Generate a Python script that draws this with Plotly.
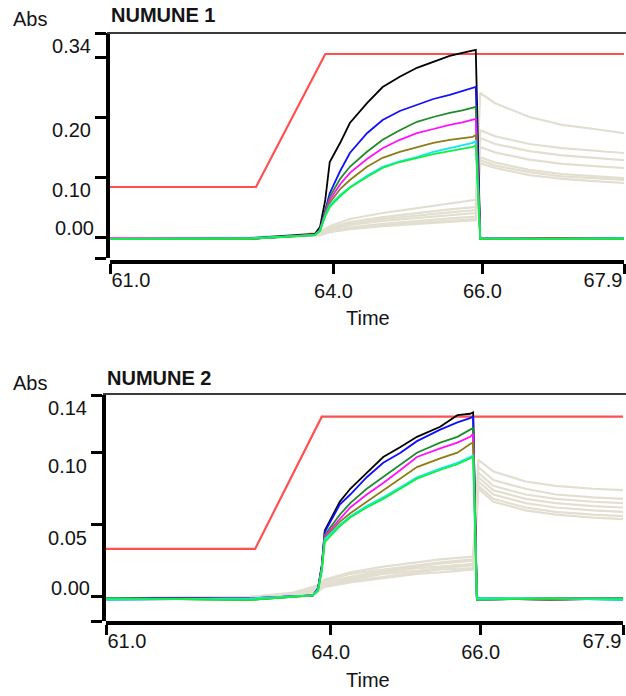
import plotly.graph_objects as go

# ---------------- data: panel 1 (NUMUNE 1) ----------------
T1_COL = [61.0, 62.88, 63.75, 63.82, 63.89, 63.95, 64.09, 64.22, 64.45, 64.66, 64.89,
          65.12, 65.34, 65.56, 65.73, 65.87, 65.91, 65.97, 66.91, 67.9]
P1_BLACK = [-0.003, -0.002, 0.005, 0.017, 0.062, 0.125, 0.157, 0.19, 0.223, 0.25, 0.267,
            0.282, 0.292, 0.302, 0.307, 0.31, 0.312, -0.002, -0.003, -0.002]
P1_BLUE = [-0.003, -0.003, 0.004, 0.013, 0.045, 0.073, 0.11, 0.14, 0.173, 0.195, 0.21,
           0.22, 0.23, 0.237, 0.243, 0.248, 0.25, -0.003, -0.002, -0.003]
P1_DKGREEN = [-0.003, -0.003, 0.004, 0.012, 0.043, 0.067, 0.097, 0.117, 0.142, 0.162, 0.178,
              0.192, 0.2, 0.207, 0.211, 0.215, 0.217, -0.003, -0.003, -0.002]
P1_MAGENTA = [-0.002, -0.003, 0.004, 0.012, 0.04, 0.062, 0.088, 0.107, 0.13, 0.148, 0.162,
              0.173, 0.18, 0.187, 0.191, 0.195, 0.197, -0.002, -0.003, -0.003]
P1_OLIVE = [-0.003, -0.003, 0.003, 0.011, 0.038, 0.057, 0.08, 0.095, 0.117, 0.132, 0.142,
            0.15, 0.157, 0.162, 0.165, 0.167, 0.17, -0.003, -0.002, -0.003]
P1_CYAN = [-0.003, -0.002, 0.003, 0.011, 0.036, 0.053, 0.07, 0.083, 0.102, 0.117, 0.126,
           0.133, 0.142, 0.148, 0.153, 0.157, 0.16, -0.002, -0.003, -0.002]
P1_GREEN = [-0.003, -0.003, 0.003, 0.01, 0.035, 0.05, 0.068, 0.082, 0.1, 0.115, 0.125,
            0.132, 0.138, 0.143, 0.147, 0.15, 0.153, -0.003, -0.003, -0.003]
T1_RED = [61.0, 62.96, 63.89, 67.9]
P1_RED = [0.0833, 0.0833, 0.305, 0.305]
T1_GRAY = [61.0, 62.88, 63.5, 63.82, 63.95, 64.22, 64.66, 65.12, 65.56, 65.91,
           65.97, 66.17, 66.63, 67.07, 67.5, 67.9]
P1_GRAY = [
    [-0.002, -0.001, 0.003, 0.008, 0.018, 0.03, 0.04, 0.048, 0.055, 0.062, 0.24, 0.223, 0.2, 0.187, 0.18, 0.173],
    [-0.002, -0.001, 0.003, 0.007, 0.015, 0.025, 0.033, 0.04, 0.046, 0.05, 0.178, 0.168, 0.155, 0.148, 0.144, 0.14],
    [-0.002, -0.002, 0.002, 0.006, 0.013, 0.022, 0.03, 0.036, 0.041, 0.045, 0.165, 0.155, 0.143, 0.136, 0.132, 0.128],
    [-0.002, -0.002, 0.002, 0.005, 0.012, 0.02, 0.027, 0.032, 0.037, 0.04, 0.15, 0.141, 0.129, 0.122, 0.118, 0.115],
    [-0.002, -0.002, 0.001, 0.004, 0.01, 0.016, 0.022, 0.027, 0.031, 0.034, 0.133, 0.124, 0.112, 0.105, 0.101, 0.098],
    [-0.002, -0.002, 0.001, 0.003, 0.008, 0.013, 0.018, 0.022, 0.025, 0.028, 0.123, 0.115, 0.103, 0.097, 0.093, 0.09],
    [-0.002, -0.002, 0.001, 0.003, 0.009, 0.014, 0.02, 0.024, 0.027, 0.03, 0.128, 0.119, 0.108, 0.101, 0.098, 0.095],
]
Y1_RANGE = [-0.035, 0.34]
Y1_TICKS = [-0.035, 0.0, 0.1, 0.2, 0.3, 0.34]
Y1_LABELS = ["", "", "0.10", "0.20", "", "0.34"]

# ---------------- data: panel 2 (NUMUNE 2) ----------------
T2_COL = [61.0, 62.92, 63.76, 63.83, 63.88, 63.92, 64.12, 64.26, 64.48, 64.7, 64.93,
          65.15, 65.46, 65.69, 65.86, 65.9, 65.95, 66.93, 67.9]
P2_BLACK = [-0.001, -0.001, 0.001, 0.006, 0.022, 0.046, 0.066, 0.075, 0.086, 0.097, 0.104,
            0.111, 0.118, 0.126, 0.127, 0.128, -0.002, -0.001, -0.001]
P2_BLUE = [-0.001, -0.001, 0.001, 0.006, 0.021, 0.045, 0.064, 0.071, 0.083, 0.093, 0.1,
           0.108, 0.116, 0.121, 0.124, 0.125, -0.001, -0.002, -0.001]
P2_DKGREEN = [-0.001, -0.002, 0.001, 0.005, 0.02, 0.043, 0.057, 0.065, 0.075, 0.083, 0.092,
              0.1, 0.107, 0.111, 0.116, 0.117, -0.001, -0.001, -0.002]
P2_MAGENTA = [-0.002, -0.001, 0.001, 0.005, 0.02, 0.042, 0.054, 0.062, 0.071, 0.079, 0.088,
              0.097, 0.103, 0.107, 0.111, 0.113, -0.002, -0.001, -0.001]
P2_OLIVE = [-0.001, -0.002, 0.001, 0.005, 0.019, 0.041, 0.052, 0.058, 0.066, 0.074, 0.082,
            0.09, 0.096, 0.1, 0.106, 0.107, -0.001, -0.002, -0.001]
P2_CYAN = [-0.002, -0.001, 0.001, 0.005, 0.019, 0.04, 0.05, 0.056, 0.063, 0.069, 0.076,
           0.083, 0.089, 0.093, 0.097, 0.098, -0.001, -0.001, -0.002]
P2_GREEN = [-0.001, -0.002, 0.001, 0.004, 0.018, 0.038, 0.049, 0.055, 0.062, 0.068, 0.075,
            0.082, 0.088, 0.092, 0.096, 0.097, -0.002, -0.001, -0.001]
T2_RED = [61.0, 62.99, 63.88, 67.9]
P2_RED = [0.0333, 0.0333, 0.125, 0.125]
T2_GRAY = [61.0, 62.92, 63.5, 63.83, 63.92, 64.26, 64.7, 65.15, 65.46, 65.9,
           65.97, 66.17, 66.6, 67.0, 67.5, 67.9]
P2_GRAY = [
    [-0.001, 0.0, 0.003, 0.008, 0.012, 0.017, 0.021, 0.024, 0.026, 0.028, 0.095, 0.087, 0.08, 0.077, 0.075, 0.074],
    [-0.001, 0.0, 0.002, 0.007, 0.011, 0.016, 0.019, 0.022, 0.024, 0.026, 0.09, 0.081, 0.075, 0.071, 0.069, 0.068],
    [-0.001, 0.0, 0.002, 0.007, 0.01, 0.014, 0.018, 0.021, 0.023, 0.025, 0.086, 0.077, 0.071, 0.068, 0.066, 0.065],
    [-0.001, -0.001, 0.002, 0.006, 0.009, 0.013, 0.017, 0.02, 0.021, 0.023, 0.083, 0.074, 0.068, 0.065, 0.063, 0.062],
    [-0.001, -0.001, 0.001, 0.005, 0.008, 0.012, 0.016, 0.018, 0.02, 0.022, 0.08, 0.071, 0.065, 0.062, 0.06, 0.059],
    [-0.001, -0.001, 0.001, 0.005, 0.008, 0.011, 0.014, 0.017, 0.019, 0.02, 0.077, 0.068, 0.062, 0.059, 0.057, 0.056],
    [-0.001, -0.001, 0.001, 0.004, 0.007, 0.01, 0.013, 0.016, 0.017, 0.019, 0.075, 0.066, 0.06, 0.057, 0.055, 0.054],
]
Y2_RANGE = [-0.0167, 0.14]
Y2_TICKS = [-0.0167, 0.0, 0.05, 0.1, 0.14]
Y2_LABELS = ["", "", "0.05", "0.10", "0.14"]

X_RANGE = [61.0, 67.9]
X_TICKS = [61.0, 64.0, 66.0, 67.9]
X_LABELS = ["", "64.0", "66.0", ""]
X_FIRST = "61.0"
X_LAST = "67.9"
TITLES = ["NUMUNE 1", "NUMUNE 2"]

COLORS = ["#000000", "#1010ff", "#1e8c2a", "#ff10ff", "#8c7d14", "#10e8f0", "#10f040"]
GRAY = "#e2dfd1"
RED = "#ff5050"

W, H = 626, 696
FONT = "Liberation Sans, Arial, sans-serif"
TXT = "#141414"
FS = 20


def fx(px):
    return px / W


def fy(py):
    return 1 - py / H


fig = go.Figure()

panels = [
    dict(t_col=T1_COL, cols=[P1_BLACK, P1_BLUE, P1_DKGREEN, P1_MAGENTA, P1_OLIVE, P1_CYAN, P1_GREEN],
         t_red=T1_RED, red=P1_RED, t_gray=T1_GRAY, gray=P1_GRAY,
         yr=Y1_RANGE, yt=Y1_TICKS, yl=Y1_LABELS,
         xs=("x", "x3", "x5"), ys=("y", "y3", "y5"),
         xdom=[fx(110), fx(624)], ydom=[fy(258), fy(33)], xpos=fy(262),
         top=33, left=107, title_y=15, abs_y=19, time_y=318),
    dict(t_col=T2_COL, cols=[P2_BLACK, P2_BLUE, P2_DKGREEN, P2_MAGENTA, P2_OLIVE, P2_CYAN, P2_GREEN],
         t_red=T2_RED, red=P2_RED, t_gray=T2_GRAY, gray=P2_GRAY,
         yr=Y2_RANGE, yt=Y2_TICKS, yl=Y2_LABELS,
         xs=("x2", "x4", "x6"), ys=("y2", "y4", "y6"),
         xdom=[fx(106), fx(623)], ydom=[fy(621), fy(395)], xpos=fy(623),
         top=394, left=103, title_y=378, abs_y=383, time_y=680),
]

layout = dict(width=W, height=H, margin=dict(l=0, r=0, t=0, b=0, pad=0),
              paper_bgcolor="white", plot_bgcolor="white", showlegend=False,
              font=dict(family=FONT, size=FS, color=TXT), shapes=[], annotations=[])


def key(ax):
    return ("xaxis" if ax[0] == "x" else "yaxis") + ax[1:]


tickfont = dict(family=FONT, size=FS, color=TXT)

for i, p in enumerate(panels):
    xm, xa, xb = p["xs"]
    ym, ya, yb = p["ys"]
    for g in p["gray"]:
        fig.add_trace(go.Scatter(x=p["t_gray"], y=g, mode="lines", xaxis=xm, yaxis=ym,
                                 line=dict(color=GRAY, width=2.2), hoverinfo="skip"))
    fig.add_trace(go.Scatter(x=p["t_red"], y=p["red"], mode="lines", xaxis=xm, yaxis=ym,
                             line=dict(color=RED, width=2.2), hoverinfo="skip"))
    for vals, c in zip(p["cols"], COLORS):
        fig.add_trace(go.Scatter(x=p["t_col"], y=vals, mode="lines", xaxis=xm, yaxis=ym,
                                 line=dict(color=c, width=1.8), hoverinfo="skip"))
    # invisible anchors for overlay label axes
    for xx, yy in ((xa, ya), (xb, yb)):
        fig.add_trace(go.Scatter(x=[X_RANGE[0]], y=[0.0], mode="markers", xaxis=xx, yaxis=yy,
                                 marker=dict(opacity=0), hoverinfo="skip"))

    common_x = dict(range=X_RANGE, domain=p["xdom"], anchor="free", position=p["xpos"],
                    showgrid=False, zeroline=False, tickfont=tickfont, automargin=False,
                    ticks="outside", ticklen=10, tickwidth=3, fixedrange=True)
    layout[key(xm)] = dict(common_x, showline=True, linecolor="black", linewidth=3.5,
                           tickcolor="black", tickmode="array", tickvals=X_TICKS, ticktext=X_LABELS)
    layout[key(xa)] = dict(common_x, overlaying=xm, showline=False, tickcolor="rgba(0,0,0,0)",
                           tickmode="array", tickvals=[X_TICKS[0]], ticktext=[X_FIRST],
                           ticklabelposition="outside right")
    layout[key(xb)] = dict(common_x, overlaying=xm, showline=False, tickcolor="rgba(0,0,0,0)",
                           tickmode="array", tickvals=[X_TICKS[-1]], ticktext=[X_LAST],
                           ticklabelposition="outside left")

    common_y = dict(range=p["yr"], domain=p["ydom"], showgrid=False, zeroline=False,
                    tickfont=tickfont, automargin=False, ticks="outside", ticklen=11,
                    tickwidth=2.5, fixedrange=True)
    layout[key(ym)] = dict(common_y, anchor=xm, showline=True, linecolor="black", linewidth=4,
                           tickcolor="black", tickmode="array", tickvals=p["yt"], ticktext=p["yl"],
                           ticklabelshift=13)
    layout[key(ya)] = dict(common_y, anchor=xa, overlaying=ym, showline=False,
                           tickcolor="rgba(0,0,0,0)", tickmode="array", tickvals=[0.0],
                           ticktext=["0.00"], ticklabelshift=-9)
    layout[key(yb)] = dict(common_y, anchor=xb, overlaying=ym, showline=False, ticks="",
                           showticklabels=False)

    layout["shapes"].append(dict(type="line", xref="paper", yref="paper",
                                 x0=fx(p["left"]), x1=1.0, y0=fy(p["top"]), y1=fy(p["top"]),
                                 line=dict(color="#3a3a3a", width=1.8)))
    layout["annotations"] += [
        dict(text="Abs", xref="paper", yref="paper", x=fx(11), y=fy(p["abs_y"]),
             xanchor="left", yanchor="middle", showarrow=False, font=dict(size=FS)),
        dict(text="<b>" + TITLES[i] + "</b>", xref="paper", yref="paper", x=fx(p["left"] + 2),
             y=fy(p["title_y"]), xanchor="left", yanchor="middle", showarrow=False,
             font=dict(size=FS)),
        dict(text="Time", xref="paper", yref="paper", x=fx(368), y=fy(p["time_y"]),
             xanchor="center", yanchor="middle", showarrow=False, font=dict(size=FS)),
    ]

fig.update_layout(**layout)
fig.write_html("out.html", config={"displayModeBar": False},
               post_script="document.body.style.margin='0';document.body.style.overflow='hidden';")
